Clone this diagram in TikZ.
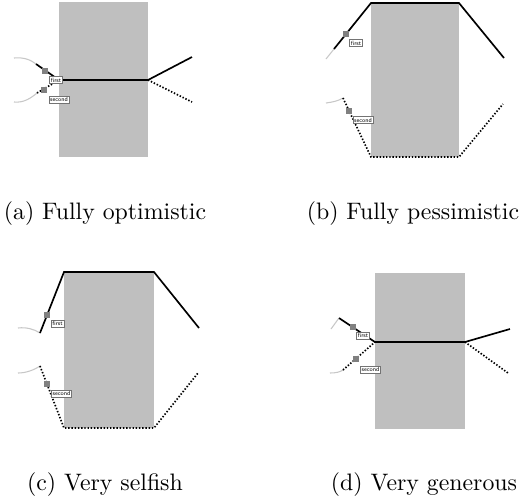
\documentclass[tikz,border=0pt]{standalone}
\usepackage{fontspec}

\begin{document}
\begin{tikzpicture}[x=0.42pt, y=-0.42pt,
  area/.style={fill=black!25},
  tail/.style={draw=black!22, line width=0.45pt},
  fst/.style={draw=black, line width=0.7pt},
  snd/.style={draw=black, line width=0.7pt, dash pattern=on 0.6pt off 0.75pt},
  mk/.style={fill=black!50, minimum size=2.2pt, inner sep=0pt},
  lbl/.style={draw=black!55, fill=white, line width=0.25pt, inner sep=0.5pt, minimum height=2.9pt, font=\fontsize{2.5}{3}\selectfont\sffamily},
  lfst/.style={lbl, minimum width=5pt},
  lsnd/.style={lbl, minimum width=8.4pt},
  subcap/.style={font=\normalsize}]
\useasboundingbox (0,0) rectangle (530,499);

% (a) fully optimistic
\fill[area] (59,2) rectangle (148,157);
\coordinate (a1) at (36,64);  \coordinate (a2) at (37,93);
\coordinate (aj) at (59,80);  \coordinate (ak) at (148,80);
\draw[tail] (14,58) .. controls (24,57) and (31,60) .. (a1);
\draw[tail] (14,102) .. controls (24,103) and (31,98) .. (a2);
\draw[snd] (a2) -- (aj);
\draw[snd] (ak) -- (192,102);
\draw[fst] (a1) -- (aj) -- (ak) -- (192,57);
\node[mk] (ma1) at (45,71) {};
\node[mk] (ma2) at (44,90) {};
\node[lfst] (fa) at (56,80) {first};
\node[lsnd] (sa) at (59,99.5) {second};
\node[subcap] (ca) at (105,214) {(a) Fully optimistic};

% (b) fully pessimistic
\fill[area] (371,3) rectangle (459,157);
\coordinate (b1) at (334,49); \coordinate (b2) at (343,98);
\draw[tail] (326,59) -- (b1);
\draw[tail] (326,103) .. controls (333,102) and (338,101) .. (b2);
\draw[fst] (b1) -- (371,3) -- (459,3) -- (504,58);
\draw[snd] (b2) -- (371,157) -- (459,157) -- (503,104);
\node[mk] (mb1) at (346,34) {};
\node[mk] (mb2) at (349,111) {};
\node[lfst] (fb) at (356,43) {first};
\node[lsnd] (sb) at (363,120) {second};
\node[subcap] (cb) at (413,214) {(b) Fully pessimistic};

% (c) very selfish
\fill[area] (64,272) rectangle (154,428);
\coordinate (c1) at (40,333); \coordinate (c2) at (40,366);
\draw[tail] (18,328) .. controls (26,327) and (34,329) .. (c1);
\draw[tail] (18,373) .. controls (26,373) and (34,370) .. (c2);
\draw[fst] (c1) -- (64,272) -- (154,272) -- (199,328);
\draw[snd] (c2) -- (64,428) -- (154,428) -- (198,373);
\node[mk] (mc1) at (47,315) {};
\node[mk] (mc2) at (47,384) {};
\node[lfst] (fc) at (57.5,323.5) {first};
\node[lsnd] (sc) at (61.5,393.5) {second};
\node[subcap] (cc) at (105,485) {(c) Very selfish};

% (d) very generous
\fill[area] (375,273) rectangle (465,429);
\coordinate (d1) at (339,318); \coordinate (d2) at (343,370);
\coordinate (dj) at (375,342); \coordinate (dk) at (465,342);
\draw[tail] (331,329) -- (d1);
\draw[tail] (330,373) .. controls (336,373) and (340,372) .. (d2);
\draw[snd] (d2) -- (dj);
\draw[snd] (dk) -- (508,373);
\draw[fst] (d1) -- (dj) -- (dk) -- (510,329);
\node[mk] (md1) at (353,327) {};
\node[mk] (md2) at (356,359) {};
\node[lfst] (fd) at (363,335.5) {first};
\node[lsnd] (sd) at (370.5,369.5) {second};
\node[subcap] (cd) at (424,485) {(d) Very generous};
\end{tikzpicture}
\end{document}
